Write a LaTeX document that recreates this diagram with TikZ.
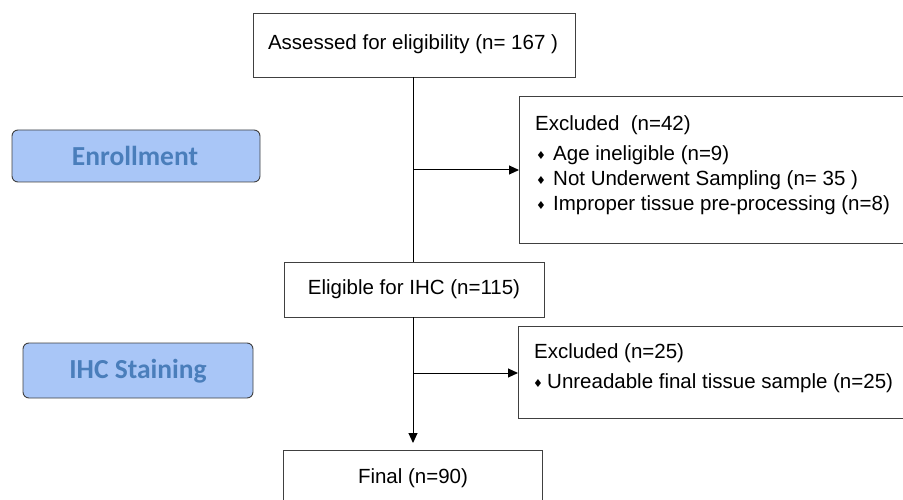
\documentclass[tikz,border=0pt]{standalone}
\usepackage{fontspec}
\setmainfont{Liberation Sans}
\newfontfamily\calfont{Carlito}
\newfontfamily\symfont{DejaVu Sans}
\usetikzlibrary{arrows.meta}
\definecolor{stagefill}{HTML}{A9C6F7}
\definecolor{stagetext}{HTML}{4A7EBB}
\definecolor{stageline}{HTML}{404040}
\tikzset{
  x=1pt,y=-1pt,
  flowbox/.style={draw=black!75,line width=0.8pt,fill=white},
  stagebox/.style={draw=stageline,line width=0.9pt,fill=stagefill,rounded corners=6pt},
  stagelabel/.style={font=\calfont\bfseries\fontsize{27.5}{30}\selectfont,text=stagetext},
  flowtext/.style={font=\fontsize{20.5}{23}\selectfont,inner sep=0pt},
  conn/.style={line width=1pt,black},
  arr/.style={conn,-{Triangle[length=10pt,width=9pt]}},
  bul/.style={font=\symfont\fontsize{11}{12}\selectfont,inner sep=0pt}
}
\begin{document}
\begin{tikzpicture}
\useasboundingbox (0,0) rectangle (903,500);
% stage labels
\draw[stagebox] (12,130) rectangle (260,182);
\node[stagelabel] (enr) at (135,156) {Enrollment};
\draw[stagebox] (23,343) rectangle (253,398);
\node[stagelabel] (ihc) at (138,371) {IHC Staining};
% main boxes
\draw[flowbox] (253,13) rectangle (575,77);
\node[flowtext] (assessed) at (413,44) {Assessed for eligibility (n= 167 )};
\coordinate (assB) at (413,77);
\draw[flowbox] (284,262) rectangle (544,317);
\node[flowtext] (elig) at (414,289) {Eligible for IHC (n=115)};
\coordinate (eligT) at (413,262);
\coordinate (eligB) at (413,317);
\draw[flowbox] (283,450) rectangle (542,510);
\node[flowtext] (final) at (413,478) {Final (n=90)};
\coordinate (finT) at (413,450);
% exclusion boxes
\draw[flowbox] (519,96) rectangle (910,243);
\coordinate (ex1W) at (519,170);
\node[flowtext,anchor=west] (ex1h) at (535,125) {Excluded\ \ (n=42)};
\node[bul] (b1) at (541,155) {♦};
\node[flowtext,anchor=west] (ex1a) at (553,155) {Age ineligible (n=9)};
\node[bul] (b2) at (541,180) {♦};
\node[flowtext,anchor=west] (ex1b) at (553,180) {Not Underwent Sampling (n= 35 )};
\node[bul] (b3) at (541,205) {♦};
\node[flowtext,anchor=west] (ex1c) at (553,205) {Improper tissue pre-processing (n=8)};
\draw[flowbox] (518,326) rectangle (910,418);
\coordinate (ex2W) at (518,373);
\node[flowtext,anchor=west] (ex2h) at (534,353) {Excluded (n=25)};
\node[bul] (b4) at (538,383) {♦};
\node[flowtext,anchor=west] (ex2a) at (547,383) {Unreadable final tissue sample (n=25)};
% connectors
\draw[conn] (assB) -- (eligT);
\coordinate (j1) at (413,170);
\draw[arr] (j1) -- (ex1W);
\draw[arr] (eligB) -- ([yshift=7pt]finT);
\coordinate (j2) at (413,373);
\draw[arr] (j2) -- (ex2W);
\end{tikzpicture}
\end{document}
